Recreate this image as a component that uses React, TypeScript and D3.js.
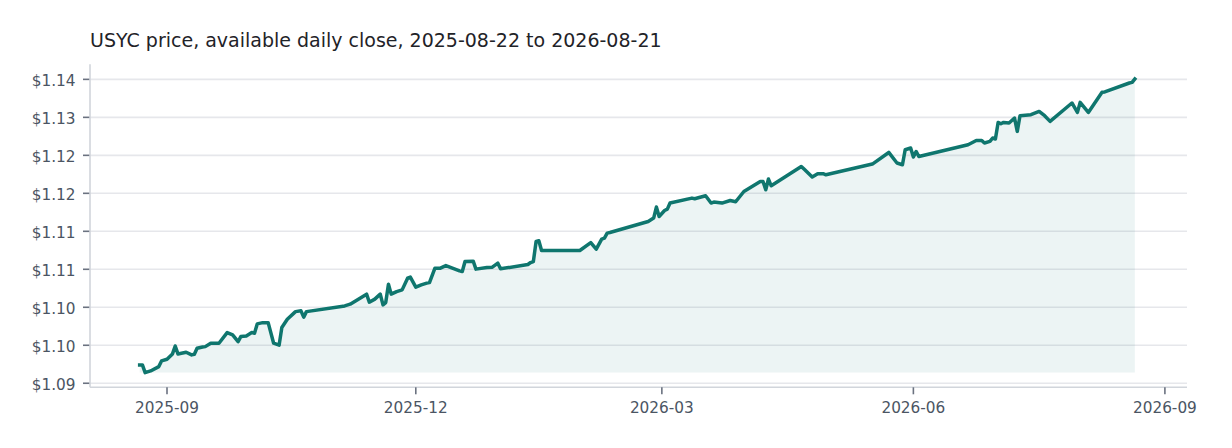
import * as d3 from "d3";
import * as React from "react";

// daily closes (gaps are days without a close)
const dates = [
  "2025-08-22", "2025-08-23", "2025-08-24", "2025-08-26", "2025-08-29", "2025-08-30",
  "2025-09-01", "2025-09-03", "2025-09-04", "2025-09-05", "2025-09-08", "2025-09-10",
  "2025-09-11", "2025-09-12", "2025-09-14", "2025-09-15", "2025-09-17", "2025-09-20",
  "2025-09-23", "2025-09-25", "2025-09-27", "2025-09-28", "2025-09-30", "2025-10-02",
  "2025-10-03", "2025-10-04", "2025-10-06", "2025-10-08", "2025-10-10", "2025-10-12",
  "2025-10-13", "2025-10-15", "2025-10-18", "2025-10-20", "2025-10-21", "2025-10-22",
  "2025-11-05", "2025-11-07", "2025-11-13", "2025-11-14", "2025-11-16", "2025-11-18",
  "2025-11-19", "2025-11-20", "2025-11-21", "2025-11-22", "2025-11-24", "2025-11-26",
  "2025-11-28", "2025-11-29", "2025-12-01", "2025-12-03", "2025-12-05", "2025-12-06",
  "2025-12-08", "2025-12-10", "2025-12-12", "2025-12-17", "2025-12-18", "2025-12-19",
  "2025-12-22", "2025-12-23", "2025-12-27", "2025-12-29", "2025-12-31", "2026-01-01",
  "2026-01-11", "2026-01-12", "2026-01-13", "2026-01-14", "2026-01-15", "2026-01-16",
  "2026-01-30", "2026-02-03", "2026-02-05", "2026-02-07", "2026-02-08", "2026-02-09",
  "2026-02-10", "2026-02-24", "2026-02-26", "2026-02-27", "2026-02-28", "2026-03-02",
  "2026-03-03", "2026-03-04", "2026-03-12", "2026-03-13", "2026-03-17", "2026-03-19",
  "2026-03-20", "2026-03-23", "2026-03-26", "2026-03-28", "2026-03-31", "2026-04-06",
  "2026-04-07", "2026-04-08", "2026-04-09", "2026-04-10", "2026-04-21", "2026-04-22",
  "2026-04-25", "2026-04-27", "2026-04-29", "2026-04-30", "2026-05-17", "2026-05-23",
  "2026-05-26", "2026-05-28", "2026-05-29", "2026-05-31", "2026-06-01", "2026-06-02",
  "2026-06-03", "2026-06-21", "2026-06-24", "2026-06-26", "2026-06-27", "2026-06-29",
  "2026-06-30", "2026-07-01", "2026-07-02", "2026-07-03", "2026-07-04", "2026-07-06",
  "2026-07-08", "2026-07-09", "2026-07-10", "2026-07-14", "2026-07-17", "2026-07-19",
  "2026-07-21", "2026-07-29", "2026-07-31", "2026-08-01", "2026-08-04", "2026-08-09",
  "2026-08-10", "2026-08-19", "2026-08-20", "2026-08-21",
];

const prices = [
  1.09741, 1.09741, 1.0964, 1.09662, 1.09719, 1.09794,
  1.09816, 1.09886, 1.09991, 1.09886, 1.09908, 1.09873,
  1.09882, 1.09961, 1.09978, 1.09982, 1.10027, 1.10027,
  1.10167, 1.10136, 1.10048, 1.10114, 1.10123, 1.10167,
  1.10159, 1.10281, 1.10298, 1.10298, 1.10027, 1.10001,
  1.10233, 1.10343, 1.10443, 1.10453, 1.1037, 1.10443,
  1.10518, 1.10541, 1.10673, 1.10567, 1.10607, 1.10673,
  1.10532, 1.10562, 1.10804, 1.10673, 1.10707, 1.10729,
  1.10883, 1.10897, 1.10765, 1.10795, 1.10818, 1.10825,
  1.11015, 1.11015, 1.11049, 1.1098, 1.1097, 1.11102,
  1.11107, 1.11002, 1.11023, 1.11028, 1.11081, 1.11006,
  1.11063, 1.11089, 1.11102, 1.11366, 1.11375, 1.11247,
  1.11247, 1.11352, 1.11265, 1.11397, 1.1141, 1.11476,
  1.11484, 1.11629, 1.11674, 1.11819, 1.11695, 1.11774,
  1.11792, 1.11872, 1.11937, 1.11928, 1.11968, 1.11872,
  1.11885, 1.11872, 1.11906, 1.11889, 1.12024, 1.12156,
  1.12156, 1.12047, 1.12188, 1.12099, 1.12354, 1.12319,
  1.12214, 1.12258, 1.12258, 1.12244, 1.12385, 1.12538,
  1.12399, 1.12376, 1.12574, 1.12596, 1.12478, 1.12551,
  1.12485, 1.1264, 1.12696, 1.12696, 1.12662, 1.12683,
  1.12728, 1.12715, 1.12933, 1.12916, 1.12933, 1.12926,
  1.12991, 1.12815, 1.13022, 1.13035, 1.13078, 1.13022,
  1.12947, 1.13189, 1.13065, 1.13197, 1.13065, 1.13329,
  1.13334, 1.13452, 1.1346, 1.13505,
];

const yTicks = [1.095, 1.1, 1.105, 1.11, 1.115, 1.12, 1.125, 1.13, 1.135];
const yTickLabels = ["$1.09", "$1.10", "$1.10", "$1.11", "$1.11", "$1.12", "$1.12", "$1.13", "$1.14"];
const xTicks = ["2025-09-01", "2025-12-01", "2026-03-01", "2026-06-01", "2026-09-01"];
const xDomain = ["2025-08-03T20:00:00Z", "2026-09-09T02:00:00Z"];
const title = "USYC price, available daily close, 2025-08-22 to 2026-08-21";

const width = 1232;
const height = 448;
const margin = { top: 64.3, right: 45, bottom: 60.7, left: 90 };

const lineColor = "#0f766e";
const font = "DejaVu Sans, sans-serif";

export default function App() {
  const data = dates.map((d, i) => ({ date: new Date(d + "T00:00:00Z"), price: prices[i] }));

  const x = d3.scaleUtc()
    .domain(xDomain.map(d => new Date(d)))
    .range([margin.left, width - margin.right]);

  const pMin = d3.min(prices)!;
  const pMax = d3.max(prices)!;
  const pad = (pMax - pMin) * 0.05;
  const y = d3.scaleLinear()
    .domain([pMin - pad, pMax + pad])
    .range([height - margin.bottom, margin.top]);

  const line = d3.line<{ date: Date, price: number }>()
    .x(d => x(d.date))
    .y(d => y(d.price));

  const area = d3.area<{ date: Date, price: number }>()
    .x(d => x(d.date))
    .y0(y(pMin))
    .y1(d => y(d.price));

  const left = margin.left;
  const right = width - margin.right;
  const bottom = height - margin.bottom;

  return (
    <svg width={width} height={height} style={{ position: "absolute", left: 0, top: 0, fontFamily: font }}>
      <rect width={width} height={height} fill="#ffffff" />
      <text x={left} y={46.5} fontSize={19} fill="#1f2328">{title}</text>

      {yTicks.map((t, i) => (
        <g key={i}>
          <line x1={left} x2={right} y1={y(t)} y2={y(t)} stroke="#e6e7eb" strokeWidth={1.6} />
          <line x1={left - 7} x2={left} y1={y(t)} y2={y(t)} stroke="#6b7280" strokeWidth={1.6} />
          <text x={75.5} y={y(t) + 7} textAnchor="end" fontSize={15.3} fill="#4b5563">{yTickLabels[i]}</text>
        </g>
      ))}

      <path d={area(data)!} fill={lineColor} fillOpacity={0.08} />
      <path d={line(data)!} fill="none" stroke={lineColor} strokeWidth={3.5}
        strokeLinejoin="round" strokeLinecap="square" />

      <line x1={left} x2={left} y1={margin.top} y2={bottom} stroke="#d1d5db" strokeWidth={1.6} />
      <line x1={left} x2={right} y1={bottom} y2={bottom} stroke="#d1d5db" strokeWidth={1.6} />

      {xTicks.map((t, i) => {
        const d = new Date(t + "T00:00:00Z");
        return (
          <g key={i}>
            <line x1={x(d)} x2={x(d)} y1={bottom} y2={bottom + 7} stroke="#6b7280" strokeWidth={1.6} />
            <text x={x(d)} y={413.3} textAnchor="middle" fontSize={15.3} fill="#4b5563">
              {d3.utcFormat("%Y-%m")(d)}
            </text>
          </g>
        );
      })}
    </svg>
  );
}
